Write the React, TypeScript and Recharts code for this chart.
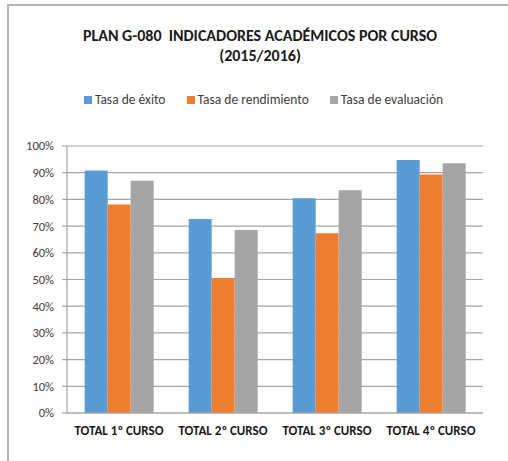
import React from 'react';
import { BarChart, Bar, XAxis, YAxis, CartesianGrid } from 'recharts';

const CATEGORIES = ['TOTAL 1º CURSO', 'TOTAL 2º CURSO', 'TOTAL 3º CURSO', 'TOTAL 4º CURSO'];
const EXITO = [90.8, 72.7, 80.4, 94.8];
const RENDIMIENTO = [78.1, 50.6, 67.3, 89.3];
const EVALUACION = [87.0, 68.5, 83.4, 93.5];
const Y_TICKS = [0, 10, 20, 30, 40, 50, 60, 70, 80, 90, 100];

const SERIES = [
    { key: 'exito', name: 'Tasa de éxito', color: '#5B9BD5', values: EXITO },
    { key: 'rendimiento', name: 'Tasa de rendimiento', color: '#ED7D31', values: RENDIMIENTO },
    { key: 'evaluacion', name: 'Tasa de evaluación', color: '#A5A5A5', values: EVALUACION },
];

const FONT = 'Carlito, Calibri, Lato, "Open Sans", sans-serif';

const data = CATEGORIES.map((curso, i) => {
    const row: { [key: string]: string | number } = { curso };
    SERIES.forEach(s => {
        row[s.key] = s.values[i];
    });
    return row;
});

export default function App() {
    return (
        <div style={{ position: 'fixed', left: 0, top: 0, width: 508, height: 461, overflow: 'hidden', background: '#fff', fontFamily: FONT }}>
            {/* chart frame, runs off the right and bottom edge like the screenshot */}
            <div style={{ position: 'absolute', left: 7, top: 4, width: 540, height: 490, border: '2px solid #b4b4b4' }} />

            <div style={{ position: 'absolute', left: 0, top: 26, width: 520, textAlign: 'center', fontWeight: 700, fontSize: 16, lineHeight: '20px', color: '#1a1a1a' }}>
                <div style={{ whiteSpace: 'pre' }}>{'PLAN G-080  INDICADORES ACADÉMICOS POR CURSO'}</div>
                <div>(2015/2016)</div>
            </div>

            <div style={{ position: 'absolute', left: 0, top: 92, width: 527, display: 'flex', justifyContent: 'center', gap: 21, fontSize: 13.5, color: '#404040', lineHeight: '16px' }}>
                {SERIES.map(s => (
                    <div key={s.key} style={{ display: 'flex', alignItems: 'center' }}>
                        <span style={{ display: 'inline-block', width: 8, height: 8, background: s.color, marginRight: 3 }} />
                        <span>{s.name}</span>
                    </div>
                ))}
            </div>

            <div style={{ position: 'absolute', left: 0, top: 0 }}>
                <BarChart
                    width={508}
                    height={461}
                    data={data}
                    margin={{ top: 146, right: 25, left: 0, bottom: 18 }}
                    barCategoryGap="17%"
                    barGap={0}
                >
                    <CartesianGrid vertical={false} stroke="#a6a6a6" strokeWidth={1.2} />
                    <XAxis
                        dataKey="curso"
                        height={30}
                        tickLine={false}
                        tickSize={6}
                        tickMargin={7}
                        axisLine={{ stroke: '#a6a6a6', strokeWidth: 1.2 }}
                        tick={{ fill: '#1a1a1a', fontSize: 13, fontWeight: 700, fontFamily: FONT }}
                        interval={0}
                    />
                    <YAxis
                        width={67}
                        domain={[0, 100]}
                        ticks={Y_TICKS}
                        interval={0}
                        tickFormatter={v => `${v}%`}
                        tickSize={5}
                        tickMargin={8}
                        tickLine={{ stroke: '#a6a6a6', strokeWidth: 1.2 }}
                        axisLine={{ stroke: '#a6a6a6', strokeWidth: 1.2 }}
                        tick={{ fill: '#404040', fontSize: 12.5, fontFamily: FONT }}
                    />
                    {SERIES.map(s => (
                        <Bar key={s.key} dataKey={s.key} name={s.name} fill={s.color} isAnimationActive={false} />
                    ))}
                </BarChart>
            </div>
        </div>
    );
}
